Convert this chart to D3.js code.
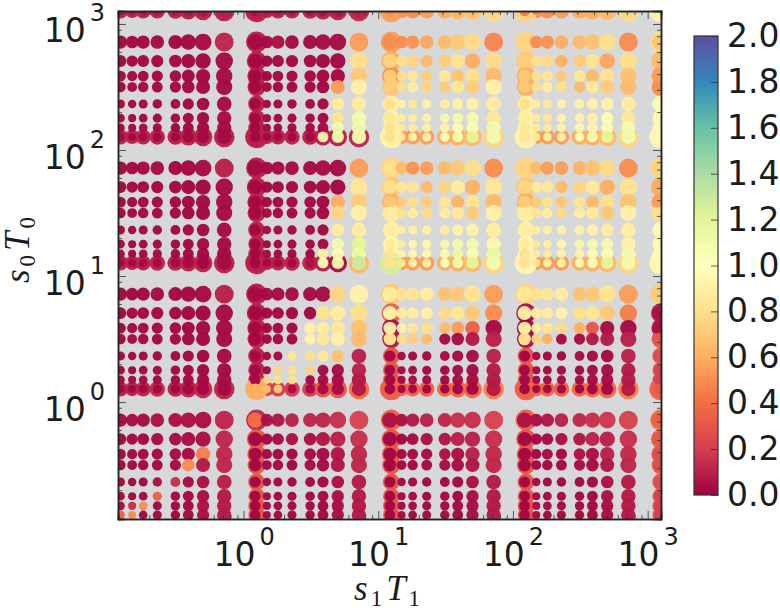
<!DOCTYPE html>
<html>
<head>
<meta charset="utf-8">
<script src="https://cdn.jsdelivr.net/npm/d3@7"></script>
<style>
body { margin: 0; background: #fff; }
svg { display: block; }
text { font-family: "DejaVu Sans", sans-serif; fill: #1c1c1c; }
.axis path { stroke: #222; stroke-width: 1.5; fill: none; }
.axis line { stroke: #333; stroke-width: 0.8; }
</style>
</head>
<body>
<div id="chart"></div>
<script>
// grid of s1T1 values (columns) and s0T0 values (rows, top to bottom)
const xValues = [0.122, 0.149, 0.18, 0.229, 0.312, 0.389, 0.501, 0.719,
  1.22, 1.49, 1.8, 2.29, 3.12, 3.89, 5.01, 7.19,
  12.2, 14.9, 18, 22.9, 31.2, 38.9, 50.1, 71.9,
  122, 149, 180, 229, 312, 389, 501, 719,
  1220];
const yValues = [1270,
  719, 508, 386, 316, 232, 179, 150, 127,
  71.9, 50.8, 38.6, 31.6, 23.2, 17.9, 15, 12.7,
  7.19, 5.08, 3.86, 3.16, 2.32, 1.79, 1.5, 1.27,
  0.719, 0.508, 0.386, 0.316, 0.232, 0.179, 0.15, 0.127];

// marker weights, one per column and per row
const xWeight = [1, 0, 1, 1.5, 2, 4, 6, 9,
  4, 0, 1, 1.5, 2, 4, 6, 9,
  4, 0, 1, 1.5, 2, 4, 6, 9,
  4, 0, 1, 1.5, 2, 4, 6, 9,
  4];
const yWeight = [11.5,
  18, 16, 14.5, 14, 12, 11.5, 11.5, 11.5,
  18, 16, 14.5, 14, 12, 11.5, 11.5, 11.5,
  18, 16, 14.5, 14, 12, 11.5, 11.5, 11.5,
  18, 16, 14.5, 14, 12, 11.5, 11.5, 11.5];

// second set of runs, larger markers at the start of each decade
const haloX = [1.25, 12.5, 125, 1250];
const haloY = [1270, 127, 12.7, 1.27];
const haloXWeight = 12;
const haloYWeight = 20.5;

const cellValues = [
  [.05,.05,.05,.05,.07,.07,.07,.1, .05,.05,.05,.05,.05,.05,.07,.1, .5,.5,.5,.55,.6,.6,.65,.75, .45,.45,.5,.55,.6,.6,.65,.75, .91],

  [.02,.02,.02,.03,.02,.02,.03,.12, .03,.03,.05,.03,.03,.03,.03,.55, .5,.5,.52,.58,.65,.7,.78,.48, .75,.5,.52,.6,.65,.68,.8,.5, .7],
  [.02,.02,.02,.02,.02,.02,.02,.03, .02,.02,.02,.02,.02,.02,.02,.8, .75,.8,.75,.65,.72,.82,.6,.78, .72,.8,.78,.62,.72,.82,.58,.8, .65],
  [.02,.02,.02,.02,.02,.02,.02,.03, .02,.02,.02,.02,.02,.02,.02,.7, .72,.8,.85,.72,.85,.68,.8,.65, .7,.8,.85,.7,.85,.65,.82,.68, .55],
  [.02,.02,.02,.02,.02,.02,.02,.03, .02,.02,.02,.02,.02,.02,.55,.91, .72,.8,.88,.75,.72,.85,.72,.91, .7,.8,.88,.8,.65,.86,.72,.65, .5],
  [.02,.02,.02,.02,.02,.02,.02,.03, .02,.02,.02,.02,.02,.02,.87,.87, .8,.91,.84,.91,.88,.91,.91,.88, .8,.87,.84,.91,.91,.91,.91,.88, 1.05],
  [.02,.02,.02,.02,.02,.02,.02,.03, .02,.02,.02,.02,.02,.02,.82,1.1, .84,.87,.88,.91,1.1,1.1,1.1,.85, .87,.86,.84,.91,.91,.91,1.05,.86, .96],
  [.02,.02,.02,.02,.02,.02,.02,.03, .02,.02,.02,.02,.02,.02,1.1,1.1, .82,.87,.88,.91,.91,.96,1.05,1.1, .84,.86,.87,.91,.93,.93,.96,1.1, .94],
  [.02,.02,.02,.02,.02,.02,.02,.03, .02,.02,.02,.02,.02,.91,1.1,1.1, .8,.84,.91,.91,1.05,1.1,1.2,1.1, .84,.84,.91,.91,.96,1.1,1.2,1.1, .96],

  [.02,.02,.02,.03,.02,.02,.03,.1, .03,.03,.03,.03,.03,.03,.03,.55, .8,.65,.52,.55,.65,.7,.8,.5, .75,.65,.55,.55,.62,.68,.78,.5, .75],
  [.02,.02,.02,.02,.02,.02,.02,.03, .02,.02,.02,.02,.02,.02,.02,.84, .8,.84,.84,.65,.75,.87,.62,.84, .75,.86,.86,.65,.75,.86,.6,.82, .6],
  [.02,.02,.02,.02,.02,.02,.02,.03, .02,.02,.02,.02,.02,.02,.6,.72, .7,.72,.8,.72,.84,.62,.82,.65, .72,.72,.82,.7,.84,.65,.8,.68, .55],
  [.02,.02,.02,.02,.02,.02,.02,.03, .02,.02,.02,.02,.02,.02,.75,.91, .88,.8,.88,.78,.88,.86,.72,.91, .88,.82,.88,.78,.88,.86,.7,.91, .8],
  [.02,.02,.02,.02,.02,.02,.02,.03, .02,.02,.02,.02,.02,.02,.87,.88, .88,.87,.91,.91,.88,.91,.91,.88, .88,.88,.91,.91,.91,.91,.88,.88, .96],
  [.02,.02,.02,.02,.02,.02,.02,.03, .02,.02,.02,.02,.02,.02,1.1,1.2, .87,.87,.94,.94,1.1,1.1,1.1,.94, .86,.86,.88,.94,1.1,1.1,1.1,.91, .96],
  [.02,.02,.02,.02,.02,.02,.02,.03, .02,.02,.02,.02,.02,.91,.96,1.15, .84,.91,.94,.94,.96,1.15,1.05,1.15, .82,.87,.88,.91,.91,.96,1.05,1.1, .96],
  [.02,.02,.02,.02,.02,.02,.02,.03, .02,.02,.02,.02,.05,.96,1.1,1.3, .8,.84,.91,.88,1.05,1.1,1.2,1.1, .82,.84,.91,.91,.96,1.05,1.2,1.1, .96],

  [.02,.02,.02,.03,.02,.02,.03,.1, .03,.03,.03,.03,.03,.03,.75,.91, .87,.82,.84,.88,.68,.7,.82,.55, .84,.82,.84,.88,.68,.7,.82,.55, .72],
  [.02,.02,.02,.02,.02,.02,.02,.03, .02,.02,.02,.02,.02,.82,.88,.8, .91,.88,.88,.91,.78,.84,.7,.5, .91,.88,.87,.91,.8,.84,.7,.45, .05],
  [.02,.02,.02,.02,.02,.02,.02,.03, .02,.02,.02,.02,.91,.88,.84,.68, .91,.91,.84,.8,.65,.55,.35,.03, .91,.88,.84,.78,.6,.3,.03,.03, .05],
  [.02,.02,.02,.02,.02,.02,.02,.03, .02,.02,.02,.02,.91,.86,.91,.65, .84,.8,.72,.65,.03,.03,.08,.1, .84,.75,.62,.03,.03,.08,.08,.1, .3],
  [.02,.02,.02,.02,.02,.02,.02,.03, .02,.02,.02,.84,.8,.86,.68,.1, .02,.02,.02,.02,.03,.03,.03,.1, .02,.02,.02,.02,.03,.03,.03,.1, .25],
  [.02,.02,.02,.02,.02,.02,.02,.03, .02,.02,.75,.8,.75,.03,.03,.1, .02,.02,.02,.02,.02,.03,.03,.08, .02,.02,.02,.02,.02,.03,.03,.08, .2],
  [.02,.02,.02,.02,.02,.02,.02,.03, .02,.75,.8,.8,.02,.03,.03,.08, .02,.02,.02,.02,.02,.03,.03,.08, .02,.02,.02,.02,.02,.03,.03,.08, .2],
  [.02,.02,.02,.02,.02,.02,.02,.03, .6,.65,.7,.05,.03,.03,.03,.08, .02,.02,.02,.02,.02,.02,.02,.08, .02,.02,.02,.02,.02,.02,.02,.08, .3],

  [.03,.03,.03,.05,.05,.05,.05,.12, .4,.05,.07,.1,.12,.12,.15,.22, .05,.05,.08,.1,.12,.15,.15,.22, .05,.05,.07,.1,.12,.15,.18,.22, .35],
  [.02,.02,.02,.03,.03,.03,.05,.12, .02,.02,.03,.05,.05,.07,.1,.15, .02,.02,.03,.05,.07,.1,.1,.15, .02,.02,.03,.05,.07,.1,.1,.15, .3],
  [.02,.02,.02,.02,.03,.03,.45,.12, .02,.02,.02,.02,.03,.03,.07,.12, .02,.02,.03,.03,.05,.05,.1,.13, .02,.02,.03,.03,.05,.05,.1,.13, .25],
  [.02,.02,.02,.02,.03,.5,.08,.12, .02,.02,.02,.02,.03,.03,.07,.12, .02,.02,.02,.02,.03,.03,.07,.12, .02,.02,.02,.02,.03,.03,.07,.12, .25],
  [.02,.02,.02,.05,.15,.03,.05,.1, .02,.02,.02,.02,.02,.02,.05,.08, .02,.02,.02,.02,.02,.02,.05,.08, .02,.02,.02,.02,.02,.02,.05,.08, .25],
  [.02,.02,.02,.35,.02,.02,.04,.08, .02,.02,.02,.02,.02,.02,.04,.08, .02,.02,.02,.02,.02,.02,.04,.08, .02,.02,.02,.02,.02,.02,.04,.08, .2],
  [.02,.15,.5,.02,.02,.02,.05,.08, .02,.02,.02,.02,.02,.02,.04,.08, .02,.02,.02,.02,.02,.02,.04,.08, .02,.02,.02,.02,.02,.02,.04,.08, .2],
  [.35,.5,.02,.02,.02,.02,.05,.08, .02,.02,.02,.02,.02,.02,.04,.08, .02,.02,.02,.02,.02,.02,.04,.08, .02,.02,.02,.02,.02,.02,.04,.08, .2]
];

// values of the larger markers, by column of haloX then row of yValues
const haloColumns = [
  [.1, .1,.1,.1,.1,.1,.1,.1,.1, .1,.1,.1,.1,.1,.1,.1,.1, .1,.1,.1,.1,.1,.1,.1,.6, .12,.3,.3,.3,.3,.3,.3,.3],
  [.55, .55,.6,.5,.7,.9,.9,.9,.93, .75,.7,.6,.88,.9,.95,.95,1.25, .7,.35,.05,.08,.3,.3,.3,.35, .35,.3,.3,.3,.3,.3,.3,.3],
  [.75, .75,.7,.6,.6,.9,.9,.93,.93, .75,.7,.6,.9,.9,.95,.95,.95, .75,.05,.02,.05,.3,.3,.3,.35, .35,.3,.3,.3,.3,.3,.3,.3],
  [.91, .8,.65,.55,.5,.95,.95,.95,.95, .75,.6,.55,.8,.95,.95,.95,.95, .72,.1,.05,.3,.3,.3,.3,.35, .4,.35,.3,.3,.3,.3,.3,.3]
];
// values of the larger markers, by row of haloY then column of xValues
const haloRows = [
  [.1,.1,.1,.1,.1,.1,.1,.1, .1,.1,.1,.1,.1,.1,.1,.12, .5,.5,.5,.55,.6,.65,.7,.78, .45,.5,.5,.55,.6,.6,.65,.78, .9],
  [.1,.1,.1,.1,.1,.1,.1,.1, .1,.1,.1,.1,.1,.1,.1,.12, .55,.55,.55,.55,.6,.6,.65,.75, .55,.55,.55,.55,.6,.6,.65,.75, .85],
  [.1,.1,.1,.1,.1,.1,.1,.1, .1,.1,.1,.1,.1,.1,.05,.65, .55,.55,.55,.55,.6,.6,.65,.75, .55,.55,.55,.55,.6,.6,.65,.75, .9],
  [.1,.1,.1,.12,.1,.1,.12,.12, .2,.2,.2,.2,.2,.3,.3,.4, .38,.35,.35,.35,.38,.38,.38,.45, .38,.35,.35,.35,.38,.38,.38,.45, .5]
];
// where both larger sets meet, by haloY row then haloX column
const haloCorners = [
  [.1, .55, .75, .91],
  [.1, .93, .93, .95],
  [.1, 1.25, .95, .95],
  [.6, .35, .35, .35]
];

const xDomain = [0.117, 1256];
const yDomain = [0.118, 1268];
const colorStops = ['#9e0142', '#d53e4f', '#f46d43', '#fdae61', '#fee08b', '#ffffbf',
  '#e6f598', '#abdda4', '#66c2a5', '#3288bd', '#5e4fa2'];
const colorTicks = [0, 0.2, 0.4, 0.6, 0.8, 1, 1.2, 1.4, 1.6, 1.8, 2];
const majorTicks = [1, 10, 100, 1000];
const decades = [0.1, 1, 10, 100, 1000];

const plot = {left: 118, right: 661, top: 11, bottom: 519};
const bar = {left: 694, right: 718, top: 36, bottom: 495};

const x = d3.scaleLog().domain(xDomain).range([plot.left, plot.right]);
const y = d3.scaleLog().domain(yDomain).range([plot.bottom, plot.top]);
const r = d3.scaleLinear().domain([0, 30]).range([0, 10.5]);
const color = d3.scaleLinear()
  .domain(colorStops.map((d, i) => i * 0.2))
  .range(colorStops);
const barScale = d3.scaleLinear().domain([0, 2]).range([bar.bottom, bar.top]);

const svg = d3.select('#chart').append('svg')
  .attr('width', 780)
  .attr('height', 611);

svg.append('defs').append('clipPath').attr('id', 'plot-clip')
  .append('rect')
  .attr('x', plot.left)
  .attr('y', plot.top)
  .attr('width', plot.right - plot.left)
  .attr('height', plot.bottom - plot.top);

svg.append('rect')
  .attr('x', plot.left)
  .attr('y', plot.top)
  .attr('width', plot.right - plot.left)
  .attr('height', plot.bottom - plot.top)
  .attr('fill', '#d7d8d9');

// build the point lists from the arrays
const cells = [];
cellValues.forEach((row, j) => row.forEach((v, i) => {
  cells.push({x: xValues[i], y: yValues[j], w: xWeight[i] + yWeight[j], v: v});
}));

const halos = [];
haloColumns.forEach((col, i) => col.forEach((v, j) => {
  halos.push({x: haloX[i], y: yValues[j], w: haloXWeight + yWeight[j], v: v});
}));
haloRows.forEach((row, j) => row.forEach((v, i) => {
  halos.push({x: xValues[i], y: haloY[j], w: xWeight[i] + haloYWeight, v: v});
}));
haloCorners.forEach((row, j) => row.forEach((v, i) => {
  halos.push({x: haloX[i], y: haloY[j], w: haloXWeight + haloYWeight, v: v});
}));

const points = svg.append('g').attr('clip-path', 'url(#plot-clip)');
points.selectAll('.halo')
  .data(halos)
  .enter().append('circle')
  .attr('class', 'halo')
  .attr('cx', d => x(d.x))
  .attr('cy', d => y(d.y))
  .attr('r', d => r(d.w))
  .attr('fill', d => color(d.v))
  .attr('opacity', 0.97);
points.selectAll('.cell')
  .data(cells)
  .enter().append('circle')
  .attr('class', 'cell')
  .attr('cx', d => x(d.x))
  .attr('cy', d => y(d.y))
  .attr('r', d => r(d.w))
  .attr('fill', d => color(d.v))
  .attr('opacity', 0.97);

// log ticks on all four sides, pointing inward
const minorTicks = [];
decades.forEach(d => d3.range(2, 10).forEach(k => minorTicks.push(d * k)));
const blank = () => '';

const sides = [
  {axis: d3.axisBottom(x), at: [0, plot.bottom], dom: x.domain()},
  {axis: d3.axisTop(x), at: [0, plot.top], dom: x.domain()},
  {axis: d3.axisLeft(y), at: [plot.left, 0], dom: y.domain()},
  {axis: d3.axisRight(y), at: [plot.right, 0], dom: y.domain()}
];
sides.forEach((s, i) => {
  const inRange = minorTicks.filter(t => t > s.dom[0] && t < s.dom[1]);
  svg.append('g')
    .attr('class', 'axis')
    .attr('transform', 'translate(' + s.at[0] + ',' + s.at[1] + ')')
    .call(s.axis.tickValues(inRange).tickSize(-4).tickFormat(blank));
});
const bottomAxis = svg.append('g')
  .attr('class', 'axis')
  .attr('transform', 'translate(0,' + plot.bottom + ')')
  .call(d3.axisBottom(x).tickValues(majorTicks).tickSize(-8).tickFormat(() => '10'));
const leftAxis = svg.append('g')
  .attr('class', 'axis')
  .attr('transform', 'translate(' + plot.left + ',0)')
  .call(d3.axisLeft(y).tickValues(majorTicks).tickSize(-8).tickFormat(() => '10'));
svg.append('g')
  .attr('class', 'axis')
  .attr('transform', 'translate(0,' + plot.top + ')')
  .call(d3.axisTop(x).tickValues(majorTicks).tickSize(-8).tickFormat(blank));
svg.append('g')
  .attr('class', 'axis')
  .attr('transform', 'translate(' + plot.right + ',0)')
  .call(d3.axisRight(y).tickValues(majorTicks).tickSize(-8).tickFormat(blank));

const addExponent = function (d) {
  d3.select(this).append('tspan')
    .attr('dx', 4)
    .attr('dy', -21)
    .style('font-size', '24px')
    .text(Math.round(Math.log10(d)));
};
bottomAxis.selectAll('.tick text')
  .attr('y', 47)
  .attr('dy', null)
  .style('font-size', '33px')
  .each(addExponent);
leftAxis.selectAll('.tick text')
  .attr('x', -13)
  .attr('dy', null)
  .attr('y', 18)
  .style('font-size', '33px')
  .each(addExponent);

// axis labels with subscripts
const mathLabel = (sel, base, index) => {
  const text = sel.append('text')
    .style('font-family', '"Liberation Serif", serif')
    .style('font-size', '35px');
  [[base[0], true], [index, false], [base[1], true], [index, false]].forEach((p, k) => {
    text.append('tspan')
      .attr('dx', p[1] ? (k ? 4 : 0) : 3)
      .attr('dy', p[1] ? (k ? -6 : 0) : 6)
      .style('font-style', p[1] ? 'italic' : 'normal')
      .style('font-size', p[1] ? '35px' : '23px')
      .text(p[0]);
  });
  return text;
};
mathLabel(svg, 'sT', '1').attr('x', 354).attr('y', 600);
mathLabel(svg, 'sT', '0').attr('transform', 'translate(29,283) rotate(-90)');

// colorbar
const gradient = svg.select('defs').append('linearGradient')
  .attr('id', 'bar-gradient')
  .attr('x1', 0).attr('y1', 1).attr('x2', 0).attr('y2', 0);
gradient.selectAll('stop')
  .data(colorStops)
  .enter().append('stop')
  .attr('offset', (d, i) => i / (colorStops.length - 1))
  .attr('stop-color', d => d);

svg.append('rect')
  .attr('x', bar.left)
  .attr('y', bar.top)
  .attr('width', bar.right - bar.left)
  .attr('height', bar.bottom - bar.top)
  .attr('fill', 'url(#bar-gradient)')
  .attr('stroke', '#333')
  .attr('stroke-width', 1.2);

const barAxis = svg.append('g')
  .attr('class', 'axis')
  .attr('transform', 'translate(' + bar.right + ',0)')
  .call(d3.axisRight(barScale).tickValues(colorTicks).tickSize(-7).tickFormat(d3.format('.1f')));
barAxis.select('path').remove();
barAxis.selectAll('.tick text')
  .attr('x', 9)
  .style('font-size', '33px');
</script>
</body>
</html>
